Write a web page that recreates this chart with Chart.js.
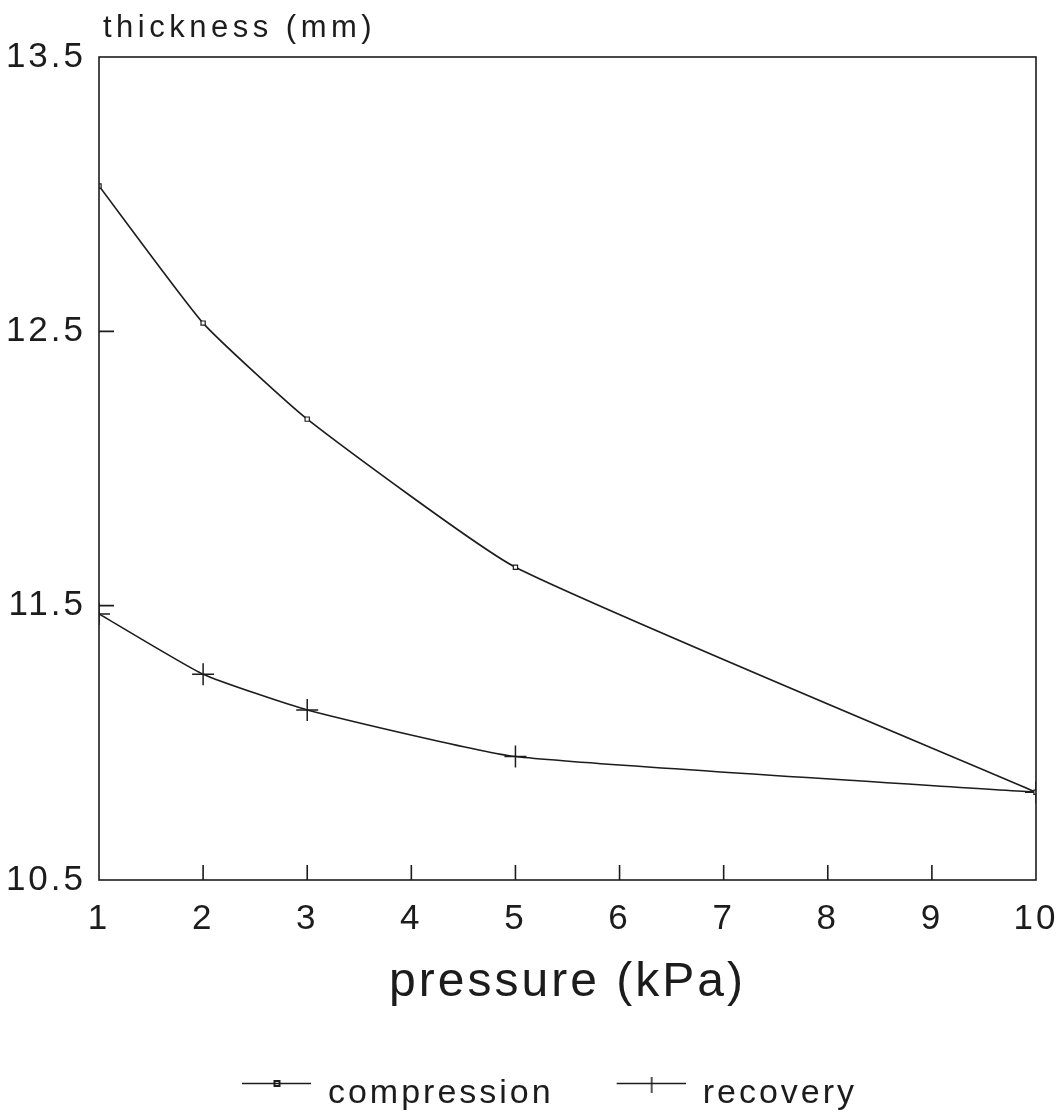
<!DOCTYPE html>
<html>
<head>
<meta charset="utf-8">
<script src="https://cdn.jsdelivr.net/npm/chart.js@4"></script>
<style>
  body { margin: 0; background: #fff; }
  #wrap { width: 1060px; height: 1112px; }
</style>
</head>
<body>
<div id="wrap"><canvas id="thicknessChart" width="1060" height="1112"></canvas></div>
<script>
// Data
const pressure = [1, 2, 3, 5, 10];
const compression = [13.03, 12.53, 12.18, 11.64, 10.82];
const recovery = [11.47, 11.25, 11.12, 10.95, 10.82];
const yTicks = [10.5, 11.5, 12.5, 13.5];

const ink = '#1c1c1c';
const fontFamily = '"Liberation Sans", Arial, sans-serif';

// legend swatches: line with the marker, sitting in the right part of the box
const swatchBox = 132;
function swatch(kind) {
  const c = document.createElement('canvas');
  c.width = swatchBox; c.height = 48;
  const g = c.getContext('2d');
  g.strokeStyle = ink;
  g.lineWidth = 1.5;
  g.beginPath(); g.moveTo(63, 13.5); g.lineTo(132, 13.5); g.stroke();
  if (kind === 'square') {
    g.lineWidth = 2;
    g.strokeRect(95.5, 11, 5, 5);
  } else {
    g.beginPath(); g.moveTo(98, 4); g.lineTo(98, 23); g.stroke();
  }
  return c;
}
const swatches = [swatch('square'), swatch('cross')];

// frame, inward ticks, the y-axis caption and text spacing
const framePlugin = {
  id: 'frame',
  beforeLayout(chart) {
    chart.ctx.letterSpacing = '3px';
  },
  beforeDraw(chart) {
    chart.ctx.letterSpacing = '3px';
  },
  afterDatasetsDraw(chart) {
    chart.ctx.letterSpacing = '1px';
  },
  afterDraw(chart) {
    const { ctx, chartArea: a, scales } = chart;
    ctx.save();
    ctx.strokeStyle = ink;
    ctx.lineWidth = 1.6;
    ctx.strokeRect(a.left, a.top, a.right - a.left, a.bottom - a.top);
    ctx.beginPath();
    scales.x.ticks.forEach(t => {
      if (t.value <= 1 || t.value >= 10) return;
      const px = scales.x.getPixelForValue(t.value);
      ctx.moveTo(px, a.bottom);
      ctx.lineTo(px, a.bottom - 15);
    });
    scales.y.ticks.forEach(t => {
      if (t.value <= 10.5 || t.value >= 13.5) return;
      const py = scales.y.getPixelForValue(t.value);
      ctx.moveTo(a.left, py);
      ctx.lineTo(a.left + 15, py);
    });
    ctx.stroke();
    ctx.fillStyle = ink;
    ctx.font = '31px ' + fontFamily;
    ctx.letterSpacing = '4.5px';
    ctx.textBaseline = 'alphabetic';
    ctx.textAlign = 'left';
    ctx.fillText('thickness (mm)', a.left + 4, 37);
    ctx.restore();
  }
};

new Chart(document.getElementById('thicknessChart'), {
  type: 'line',
  data: {
    datasets: [
      {
        label: 'compression',
        data: pressure.map((p, i) => ({ x: p, y: compression[i] })),
        borderColor: ink,
        borderWidth: 1.6,
        pointStyle: 'rect',
        pointRadius: 3,
        pointBorderWidth: 1.2,
        pointBorderColor: ink,
        pointBackgroundColor: '#fff',
        tension: 0.15,
        fill: false
      },
      {
        label: 'recovery',
        data: pressure.map((p, i) => ({ x: p, y: recovery[i] })),
        borderColor: ink,
        borderWidth: 1.6,
        pointStyle: 'cross',
        pointRadius: 11,
        pointBorderWidth: 1.5,
        pointBorderColor: ink,
        tension: 0.15,
        fill: false
      }
    ]
  },
  options: {
    responsive: false,
    animation: false,
    layout: { padding: { top: 57, right: 24, left: 0, bottom: 1 } },
    plugins: {
      tooltip: { enabled: false },
      legend: {
        position: 'bottom',
        maxHeight: 34,
        labels: {
          color: ink,
          font: { size: 34, family: fontFamily },
          usePointStyle: true,
          pointStyleWidth: swatchBox,
          padding: 0,
          generateLabels: chart => chart.data.datasets.map((d, i) => ({
            text: d.label,
            pointStyle: swatches[i],
            fillStyle: ink,
            strokeStyle: ink,
            fontColor: ink,
            lineWidth: 0,
            datasetIndex: i
          }))
        }
      }
    },
    scales: {
      x: {
        type: 'linear',
        z: 1,
        min: 1,
        max: 10,
        grid: { display: false, drawTicks: false },
        border: { display: false },
        ticks: {
          stepSize: 1,
          color: ink,
          padding: 18,
          font: { size: 35, family: fontFamily }
        },
        title: {
          display: true,
          text: 'pressure (kPa)',
          color: ink,
          padding: { top: 0, bottom: 70 },
          font: { size: 48, family: fontFamily, lineHeight: 1 }
        },
        afterFit(scale) {
          scale.height = 197;
          scale.paddingLeft = 0;
          scale.paddingRight = 0;
        }
      },
      y: {
        z: 1,
        min: 10.5,
        max: 13.5,
        grid: { display: false, drawTicks: false },
        border: { display: false },
        afterBuildTicks(scale) {
          scale.ticks = yTicks.map(v => ({ value: v }));
        },
        ticks: {
          color: ink,
          padding: 13,
          font: { size: 35, family: fontFamily },
          callback: v => Number(v).toFixed(1)
        },
        afterFit(scale) {
          scale.width = 99;
          scale.paddingTop = 0;
          scale.paddingBottom = 0;
        }
      }
    }
  },
  plugins: [framePlugin]
});
</script>
</body>
</html>
